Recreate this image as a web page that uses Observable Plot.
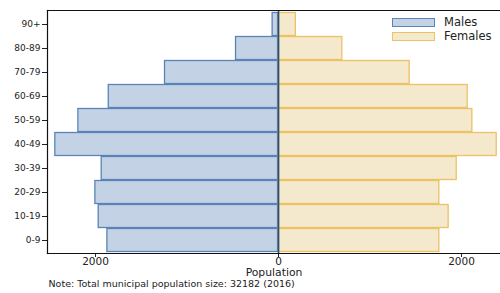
<!DOCTYPE html>
<html>
<head>
<meta charset="utf-8">
<script src="https://cdn.jsdelivr.net/npm/d3@7"></script>
<script src="https://cdn.jsdelivr.net/npm/@observablehq/plot@0.6"></script>
<style>
  html, body { margin: 0; padding: 0; background: #fff; }
  #wrap { position: relative; width: 500px; height: 293px; font-family: "DejaVu Sans", sans-serif; }
  .legend { position: absolute; left: 392px; top: 16px; font-size: 11.5px; color: #222; line-height: 13px; }
  .legend div { display: flex; align-items: center; height: 13.5px; }
  .legend span.sw { display: inline-block; width: 43px; height: 9px; margin-right: 9px; box-sizing: border-box; }
</style>
</head>
<body>
<div id="wrap">
  <div class="legend">
    <div><span class="sw" style="background:#c3d3e5;border:1.3px solid #5a84b6"></span>Males</div>
    <div><span class="sw" style="background:#f5e9cd;border:1.3px solid #ebc266"></span>Females</div>
  </div>
</div>
<script>
const ageGroups = ["90+", "80-89", "70-79", "60-69", "50-59", "40-49", "30-39", "20-29", "10-19", "0-9"];
const males =   [70, 470, 1246, 1861, 2193, 2445, 1938, 2007, 1971, 1876];
const females = [195, 703, 1439, 2073, 2124, 2390, 1953, 1763, 1865, 1763];
const xTicks = [-2000, 0, 2000];
const note = "Note: Total municipal population size: 32182 (2016)";

const maleData = ageGroups.map((age, i) => ({age, value: males[i]}));
const femaleData = ageGroups.map((age, i) => ({age, value: females[i]}));
const fmt = d => String(Math.abs(d));

const chart = Plot.plot({
  width: 500,
  height: 293,
  marginLeft: 47,
  marginRight: 0,
  marginTop: 10,
  marginBottom: 40,
  style: {fontFamily: "DejaVu Sans, sans-serif", color: "#222", background: "#fff"},
  x: {domain: [-2525, 2426], ticks: xTicks, tickFormat: fmt, label: null},
  y: {domain: ageGroups, padding: 0, label: null},
  marks: [
    Plot.barX(maleData, {y: "age", x1: d => -d.value, x2: 0, fill: "#c3d3e5", stroke: "#5a84b6", strokeWidth: 1.3, inset: 0.5}),
    Plot.barX(femaleData, {y: "age", x1: 0, x2: "value", fill: "#f5e9cd", stroke: "#ebc266", strokeWidth: 1.3, inset: 0.5}),
    Plot.ruleX([0], {stroke: "#2c4f70", strokeWidth: 1.6}),
    Plot.axisX({ticks: xTicks, tickFormat: fmt, fontSize: 10.5, tickSize: 4, tickPadding: 0, label: null}),
    Plot.axisY({fontSize: 9, tickSize: 5, tickPadding: 2, label: null}),
    Plot.frame({anchor: "top", stroke: "#111", strokeWidth: 1.2}),
    Plot.frame({anchor: "left", stroke: "#111", strokeWidth: 1.2}),
    Plot.frame({anchor: "bottom", stroke: "#111", strokeWidth: 1.2}),
    Plot.text(["Population"], {text: d => d, frameAnchor: "bottom", dy: 22.5, fontSize: 10.8, fill: "#222"}),
    Plot.text([note], {text: d => d, frameAnchor: "bottom-left", dx: 1, dy: 33, textAnchor: "start", fontSize: 9.5, fill: "#222"})
  ]
});
document.getElementById("wrap").prepend(chart);
chart.style.position = "absolute";
chart.style.left = "0";
chart.style.top = "0";
</script>
</body>
</html>
